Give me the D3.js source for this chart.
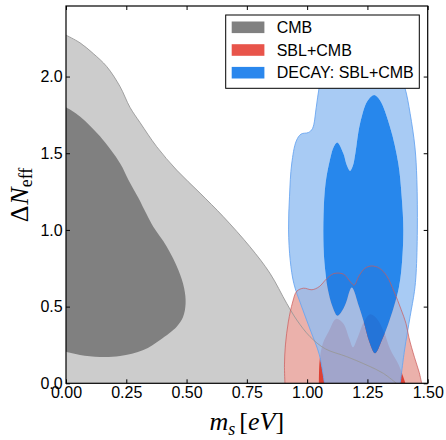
<!DOCTYPE html>
<html><head><meta charset="utf-8">
<script src="https://cdn.jsdelivr.net/npm/d3@7"></script>
<style>body{margin:0;background:#fff}</style>
</head><body><svg id="chart" width="446" height="440"></svg>
<script>
// ---- data ----
const xTicks = [0, 0.25, 0.5, 0.75, 1.0, 1.25, 1.5];
const yTicks = [0, 0.5, 1.0, 1.5, 2.0];
const legendLabels = ["CMB", "SBL+CMB", "DECAY: SBL+CMB"];
const legendColors = ["#808080", "#e8544a", "#2a87ed"];

// CMB 2-sigma contour boundary (m_s, dNeff)
const cmbOuter = [[0,2.27],[0.058,2.22],[0.113,2.15],[0.169,2.065],[0.224,1.935],[0.265,1.80],[0.307,1.70],[0.376,1.543],[0.459,1.39],[0.556,1.24],[0.652,1.087],[0.763,0.89],[0.846,0.717],[0.915,0.522],[0.957,0.413],[1.012,0.304],[1.075,0.225],[1.164,0.174],[1.247,0.119],[1.316,0.065],[1.37,0]];
// CMB 1-sigma
const cmbInner = [[0,1.80],[0.058,1.74],[0.141,1.61],[0.224,1.435],[0.259,1.326],[0.30,1.21],[0.335,1.10],[0.362,1.02],[0.418,0.891],[0.466,0.739],[0.490,0.62],[0.496,0.52],[0.485,0.43],[0.459,0.369],[0.39,0.283],[0.321,0.217],[0.224,0.178],[0.141,0.172],[0.058,0.185],[0,0.206]];
// SBL+CMB
const sblOuter = [[0.908,0],[0.906,0.12],[0.910,0.25],[0.922,0.40],[0.940,0.53],[0.957,0.60],[0.985,0.62],[1.02,0.61],[1.05,0.63],[1.08,0.68],[1.11,0.715],[1.15,0.712],[1.18,0.66],[1.195,0.64],[1.215,0.70],[1.24,0.75],[1.268,0.765],[1.30,0.75],[1.33,0.70],[1.36,0.60],[1.39,0.48],[1.41,0.39],[1.422,0.30],[1.445,0.17],[1.465,0.07],[1.475,0]];
const sblInner = [[1.049,0],[1.052,0.15],[1.065,0.26],[1.09,0.34],[1.12,0.42],[1.15,0.39],[1.175,0.29],[1.19,0.235],[1.21,0.30],[1.235,0.40],[1.262,0.45],[1.29,0.42],[1.32,0.33],[1.345,0.22],[1.38,0.12],[1.408,0]];
// DECAY: SBL+CMB
const decayOuter = [[1.072,0],[1.05,0.19],[1.015,0.34],[0.975,0.51],[0.945,0.65],[0.93,0.80],[0.923,1.0],[0.927,1.22],[0.936,1.43],[0.955,1.58],[0.975,1.625],[1.005,1.635],[1.022,1.66],[1.038,1.80],[1.05,1.93],[1.07,2.05],[1.12,2.15],[1.2,2.2],[1.3,2.15],[1.38,2.03],[1.406,1.924],[1.427,1.76],[1.447,1.54],[1.455,1.33],[1.457,1.0],[1.452,0.72],[1.445,0.60],[1.427,0.435],[1.404,0.217],[1.386,0]];
const decayInner = [[1.125,1.57],[1.15,1.50],[1.165,1.42],[1.178,1.385],[1.19,1.42],[1.20,1.50],[1.219,1.69],[1.25,1.84],[1.278,1.88],[1.302,1.845],[1.344,1.67],[1.378,1.435],[1.392,1.22],[1.399,1.0],[1.392,0.76],[1.38,0.62],[1.36,0.50],[1.335,0.38],[1.31,0.28],[1.282,0.196],[1.258,0.27],[1.235,0.40],[1.215,0.50],[1.185,0.625],[1.16,0.52],[1.14,0.46],[1.125,0.44],[1.105,0.50],[1.085,0.62],[1.074,0.75],[1.068,0.89],[1.068,1.10],[1.076,1.30],[1.095,1.46],[1.11,1.54]];

// ---- layout ----
const L = 66, R = 427.7, T = 6, B = 383.3;
const x = d3.scaleLinear().domain([0, 1.5]).range([L, R]);
const y = d3.scaleLinear().domain([0, 2.46]).range([B, T]);
const svg = d3.select("#chart");

const openCurve = d3.line().x(d => x(d[0])).y(d => y(d[1])).curve(d3.curveCatmullRom.alpha(0.5));
const closedCurve = d3.line().x(d => x(d[0])).y(d => y(d[1])).curve(d3.curveCatmullRomClosed.alpha(0.5));
function region(pts, corners) {
  return openCurve(pts) + (corners || []).map(c => `L${x(c[0])},${y(c[1])}`).join("") + "Z";
}

svg.append("defs").append("clipPath").attr("id", "plotclip")
  .append("rect").attr("x", L).attr("y", T).attr("width", R - L).attr("height", B - T);
const g = svg.append("g").attr("clip-path", "url(#plotclip)");

// CMB
g.append("path").attr("d", region(cmbOuter, [[0, 0]])).attr("fill", "#cccccc");
g.append("path").attr("d", region(cmbInner)).attr("fill", "#808080");
// SBL+CMB
g.append("path").attr("d", region(sblOuter)).attr("fill", "#ebb1ab");
g.append("path").attr("d", region(sblInner)).attr("fill", "#dd4034");
// DECAY
g.append("path").attr("d", region(decayOuter) + closedCurve(decayInner))
  .attr("fill", "#92bef1").attr("fill-opacity", 0.8).attr("fill-rule", "evenodd");
g.append("path").attr("d", closedCurve(decayInner)).attr("fill", "#0f7aea").attr("fill-opacity", 0.9);
// contour edges
g.append("path").attr("d", openCurve(decayOuter)).attr("fill", "none").attr("stroke", "#6aa6f0").attr("stroke-width", 0.9);
g.append("path").attr("d", openCurve(cmbOuter)).attr("fill", "none").attr("stroke", "#999999").attr("stroke-width", 0.9);
g.append("path").attr("d", openCurve(sblOuter)).attr("fill", "none").attr("stroke", "#cc5a5a").attr("stroke-opacity", 0.8).attr("stroke-width", 0.9);

// ---- axes ----
const fmtX = d3.format(".2f"), fmtY = d3.format(".1f");
const tickFont = "'Liberation Sans', Arial, sans-serif";
function styleAxis(sel) {
  sel.attr("font-family", null).attr("font-size", null);
  sel.select(".domain").remove();
  sel.selectAll(".tick line").attr("stroke", "#000").attr("stroke-width", 1);
  sel.selectAll(".tick text").attr("fill", "#000").style("font-family", tickFont).style("font-size", "16px");
}
svg.append("g").attr("transform", `translate(0,${B})`)
  .call(d3.axisBottom(x).tickValues(xTicks).tickFormat(fmtX).tickSizeInner(-4).tickSizeOuter(0).tickPadding(3))
  .call(styleAxis);
svg.append("g").attr("transform", `translate(0,${T})`)
  .call(d3.axisTop(x).tickValues(xTicks).tickFormat("").tickSizeInner(-4).tickSizeOuter(0))
  .call(styleAxis);
svg.append("g").attr("transform", `translate(${L},0)`)
  .call(d3.axisLeft(y).tickValues(yTicks).tickFormat(fmtY).tickSizeInner(-4).tickSizeOuter(0).tickPadding(3.3))
  .call(styleAxis);
svg.append("g").attr("transform", `translate(${R},0)`)
  .call(d3.axisRight(y).tickValues(yTicks).tickFormat("").tickSizeInner(-4).tickSizeOuter(0))
  .call(styleAxis);
svg.append("rect").attr("x", L).attr("y", T).attr("width", R - L).attr("height", B - T)
  .attr("fill", "none").attr("stroke", "#000").attr("stroke-width", 1.2);

// ---- axis titles ----
const serif = "'Liberation Serif', 'Times New Roman', serif";
const xt = svg.append("text").attr("x", (L + R) / 2).attr("y", 430).attr("text-anchor", "middle")
  .style("font-family", serif).style("font-size", "26px").attr("fill", "#000");
xt.append("tspan").attr("font-style", "italic").text("m");
xt.append("tspan").attr("font-style", "italic").attr("font-size", "18px").attr("dy", 5).text("s");
xt.append("tspan").attr("dy", -5).attr("dx", 4).text("[");
xt.append("tspan").attr("font-style", "italic").text("eV");
xt.append("tspan").text("]");

const yt = svg.append("text").attr("transform", "translate(28,195) rotate(-90)").attr("text-anchor", "middle")
  .style("font-family", serif).style("font-size", "26px").attr("fill", "#000");
yt.append("tspan").text("Δ");
yt.append("tspan").attr("font-style", "italic").attr("dx", 1).text("N");
yt.append("tspan").attr("font-size", "18px").attr("dy", 4).text("eff");

// ---- legend ----
const lg = svg.append("g");
lg.append("rect").attr("x", 225.7).attr("y", 15).attr("width", 193.6).attr("height", 73.3)
  .attr("fill", "#fff").attr("stroke", "#000").attr("stroke-width", 1);
const ly = d3.scalePoint().domain(legendLabels).range([27.3, 72.7]);
legendLabels.forEach((lab, i) => {
  lg.append("rect").attr("x", 231.7).attr("y", ly(lab) - 5.8).attr("width", 32.7).attr("height", 11.6)
    .attr("fill", legendColors[i]);
  lg.append("text").attr("x", 276.7).attr("y", ly(lab) + 5.6)
    .style("font-family", tickFont).style("font-size", "16px").attr("fill", "#000").text(lab);
});
</script></body></html>
